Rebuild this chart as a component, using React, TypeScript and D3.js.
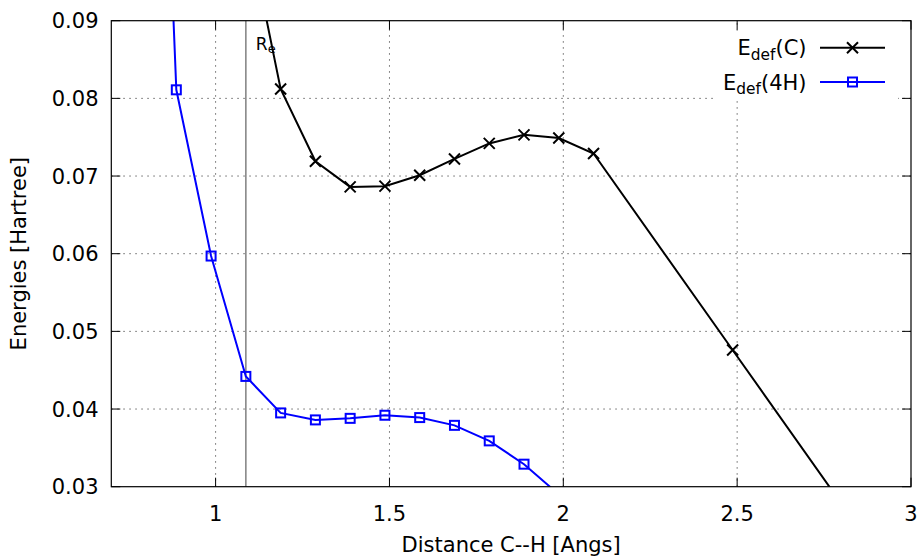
import React, {useEffect, useRef} from 'react';
import * as d3 from 'd3';

// distances (Angstrom), points taken every 0.1 around R_e
const dist_c = [1.087, 1.187, 1.287, 1.387, 1.487, 1.587, 1.687, 1.787, 1.887, 1.987, 2.087, 2.487, 2.887];
const edef_c = [0.1032, 0.0812, 0.0719, 0.0686, 0.0687, 0.0701, 0.0722, 0.0742, 0.0753, 0.0749, 0.0729, 0.0476, 0.0223];

const dist_h = [0.787, 0.887, 0.987, 1.087, 1.187, 1.287, 1.387, 1.487, 1.587, 1.687, 1.787, 1.887, 1.987];
const edef_h = [0.192, 0.0811, 0.0597, 0.0442, 0.0395, 0.0386, 0.0388, 0.0392, 0.0389, 0.0379, 0.0359, 0.0329, 0.029];

const r_e = 1.087;

const x_ticks = [1, 1.5, 2, 2.5, 3];
const y_ticks = [0.03, 0.04, 0.05, 0.06, 0.07, 0.08, 0.09];

export default function App() {
  const ref = useRef<SVGSVGElement>(null);

  useEffect(() => {
    const svg = d3.select(ref.current);
    svg.selectAll('*').remove();

    const width = 922;
    const height = 558;
    const margin = {top: 20.7, right: 11, bottom: 71.3, left: 111.3};
    const font = 'DejaVu Sans';
    const fs = 21;

    const x = d3.scaleLinear().domain([0.7, 3]).range([margin.left, width - margin.right]);
    const y = d3.scaleLinear().domain([0.03, 0.09]).range([height - margin.bottom, margin.top]);
    const [x0, x1] = x.range();
    const [y0, y1] = y.range();

    svg.append('rect').attr('width', width).attr('height', height).attr('fill', 'white');

    svg.append('defs').append('clipPath').attr('id', 'plot-clip')
      .append('rect').attr('x', x0).attr('y', y1).attr('width', x1 - x0).attr('height', y0 - y1);

    // grid
    const grid = svg.append('g').attr('stroke', '#666').attr('stroke-width', 1).attr('stroke-dasharray', '1.5,4.5');
    x_ticks.filter(t => t < 3).forEach(t => {
      grid.append('line').attr('x1', x(t)).attr('x2', x(t)).attr('y1', y0).attr('y2', y1);
    });
    y_ticks.filter(t => t > 0.03 && t < 0.09).forEach(t => {
      grid.append('line').attr('x1', x0).attr('x2', x1).attr('y1', y(t)).attr('y2', y(t));
    });

    // key background hides the grid behind it
    svg.append('rect').attr('x', 713).attr('y', 31).attr('width', 185).attr('height', 70).attr('fill', 'white');

    // R_e marker
    svg.append('line')
      .attr('x1', x(r_e)).attr('x2', x(r_e)).attr('y1', y0).attr('y2', y1)
      .attr('stroke', '#808080').attr('stroke-width', 1.5);
    const re_label = svg.append('text').attr('x', x(r_e) + 10).attr('y', 49.5)
      .attr('font-family', font).attr('font-size', 17).attr('fill', 'black');
    re_label.append('tspan').text('R');
    re_label.append('tspan').attr('font-size', 13).attr('dy', 3.5).text('e');

    // ticks (mirrored)
    const tick_len = 9;
    const ticks = svg.append('g').attr('stroke', 'black').attr('stroke-width', 1);
    x_ticks.forEach(t => {
      ticks.append('line').attr('x1', x(t)).attr('x2', x(t)).attr('y1', y0).attr('y2', y0 - tick_len);
      ticks.append('line').attr('x1', x(t)).attr('x2', x(t)).attr('y1', y1).attr('y2', y1 + tick_len);
    });
    y_ticks.forEach(t => {
      ticks.append('line').attr('x1', x0).attr('x2', x0 + tick_len).attr('y1', y(t)).attr('y2', y(t));
      ticks.append('line').attr('x1', x1).attr('x2', x1 - tick_len).attr('y1', y(t)).attr('y2', y(t));
    });

    svg.append('g').selectAll('text').data(x_ticks).join('text')
      .attr('x', d => x(d)).attr('y', 521)
      .attr('text-anchor', 'middle')
      .attr('font-family', font).attr('font-size', fs)
      .text(d => d3.format('')(d));

    svg.append('g').selectAll('text').data(y_ticks).join('text')
      .attr('x', 98.5).attr('y', d => y(d) + 7.7)
      .attr('text-anchor', 'end')
      .attr('font-family', font).attr('font-size', fs)
      .text(d => d3.format('.2f')(d));

    svg.append('text')
      .attr('x', (x0 + x1) / 2).attr('y', 552)
      .attr('text-anchor', 'middle')
      .attr('font-family', font).attr('font-size', fs)
      .text('Distance C--H [Angs]');

    svg.append('text')
      .attr('transform', `translate(25.5,${(y0 + y1) / 2}) rotate(-90)`)
      .attr('text-anchor', 'middle')
      .attr('font-family', font).attr('font-size', fs)
      .text('Energies [Hartree]');

    // series
    const line = d3.line<[number, number]>().x(d => x(d[0])).y(d => y(d[1]));
    const plot = svg.append('g').attr('clip-path', 'url(#plot-clip)');

    const pts_c = dist_c.map((d, i) => [d, edef_c[i]] as [number, number]);
    const pts_h = dist_h.map((d, i) => [d, edef_h[i]] as [number, number]);

    plot.append('path').datum(pts_c).attr('d', line)
      .attr('fill', 'none').attr('stroke', 'black').attr('stroke-width', 2);
    plot.append('path').datum(pts_h).attr('d', line)
      .attr('fill', 'none').attr('stroke', '#0000ff').attr('stroke-width', 2);

    const cross = (g: any, cx: number, cy: number) => {
      const s = 5.5;
      g.append('path')
        .attr('d', `M${cx - s},${cy - s}L${cx + s},${cy + s}M${cx - s},${cy + s}L${cx + s},${cy - s}`)
        .attr('stroke', 'black').attr('stroke-width', 2).attr('fill', 'none');
    };
    const square = (g: any, cx: number, cy: number) => {
      const s = 4.5;
      g.append('rect').attr('x', cx - s).attr('y', cy - s).attr('width', 2 * s).attr('height', 2 * s)
        .attr('stroke', '#0000ff').attr('stroke-width', 2).attr('fill', 'none');
    };
    pts_c.forEach(p => cross(plot, x(p[0]), y(p[1])));
    pts_h.forEach(p => square(plot, x(p[0]), y(p[1])));

    // border
    svg.append('rect').attr('x', x0).attr('y', y1).attr('width', x1 - x0).attr('height', y0 - y1)
      .attr('fill', 'none').attr('stroke', 'black').attr('stroke-width', 1.2);

    // key
    const key = [
      {label: 'C', color: 'black', mark: cross, cy: 47.7},
      {label: '4H', color: '#0000ff', mark: square, cy: 82},
    ];
    key.forEach(k => {
      const t = svg.append('text').attr('x', 806.5).attr('y', k.cy + 7.7)
        .attr('text-anchor', 'end').attr('font-family', font).attr('font-size', fs);
      t.append('tspan').text('E');
      t.append('tspan').attr('font-size', 15.4).attr('dy', 4.5).text('def');
      t.append('tspan').attr('dy', -4.5).text(`(${k.label})`);
      svg.append('line').attr('x1', 820).attr('x2', 885).attr('y1', k.cy).attr('y2', k.cy)
        .attr('stroke', k.color).attr('stroke-width', 2);
      k.mark(svg, 852.5, k.cy);
    });
  }, []);

  return (
    <svg ref={ref} width={922} height={558}
      style={{display: 'block', position: 'absolute', left: 0, top: 0}} />
  );
}
